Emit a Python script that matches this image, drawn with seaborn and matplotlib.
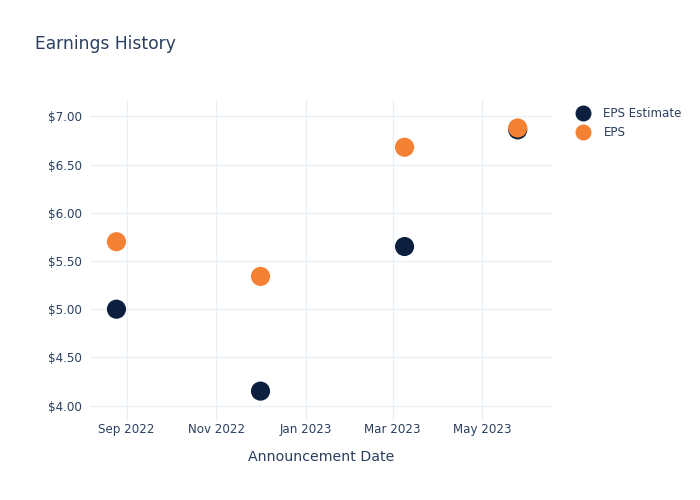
import matplotlib
matplotlib.use("Agg")
import matplotlib.pyplot as plt
import matplotlib.dates as mdates
import matplotlib.ticker as mticker
from matplotlib.lines import Line2D
import pandas as pd
import seaborn as sns

dates = ["2022-08-25", "2022-12-01", "2023-03-09", "2023-05-25"]
eps_estimate = [5.00, 4.15, 5.65, 6.86]
eps_actual = [5.70, 5.34, 6.68, 6.88]
series_names = ["EPS Estimate", "EPS"]
colors = {"EPS Estimate": "#0c1f3f", "EPS": "#f58134"}

df = pd.DataFrame({
    "date": pd.to_datetime(dates * 2),
    "value": eps_estimate + eps_actual,
    "series": [series_names[0]] * len(dates) + [series_names[1]] * len(dates),
})

sns.set_theme(style="white")
plt.rcParams["font.family"] = ["DejaVu Sans"]
text_color = "#2a3f5f"
grid_color = "#ebf0f8"

fig = plt.figure(figsize=(7, 5), dpi=100)
ax = fig.add_axes([90 / 700, 1 - 421 / 500, (553 - 90) / 700, (421 - 100) / 500])

sns.scatterplot(data=df, x="date", y="value", hue="series", hue_order=series_names,
                palette=colors, s=190, edgecolor="none", ax=ax, legend=False, zorder=3)

ax.set_xlim(pd.Timestamp("2022-08-07"), pd.Timestamp("2023-06-18"))
ax.set_ylim(3.84, 7.17)
ax.yaxis.set_major_locator(mticker.MultipleLocator(0.5))
ax.yaxis.set_major_formatter(mticker.FuncFormatter(lambda v, p: f"${v:.2f}"))
ax.xaxis.set_major_locator(mdates.MonthLocator(bymonth=[1, 3, 5, 9, 11]))
ax.xaxis.set_major_formatter(mdates.DateFormatter("%b %Y"))

ax.grid(True, color=grid_color, linewidth=1)
ax.set_axisbelow(True)
for sp in ax.spines.values():
    sp.set_visible(False)
ax.tick_params(axis="both", length=0, labelsize=8.6, colors=text_color)
ax.tick_params(axis="y", pad=6)
ax.tick_params(axis="x", pad=1.5)
ax.set_xlabel("Announcement Date", fontsize=10.2, color=text_color, labelpad=10)
ax.set_ylabel("")

fig.text(35 / 700, 1 - 44 / 500, "Earnings History", fontsize=12.3, color=text_color,
         va="center", ha="left")

handles = [Line2D([], [], marker="o", linestyle="", markersize=11.5,
                  markerfacecolor=colors[n], markeredgecolor="none") for n in series_names]
leg = fig.legend(handles, series_names, loc="upper left", bbox_to_anchor=(576 / 700, 1 - 107 / 500),
                 frameon=False, fontsize=8.6, handletextpad=1.1, labelspacing=0.52,
                 borderaxespad=0, borderpad=0, handlelength=1.2)
for t in leg.get_texts():
    t.set_color(text_color)

fig.savefig("out.png", dpi=100)
